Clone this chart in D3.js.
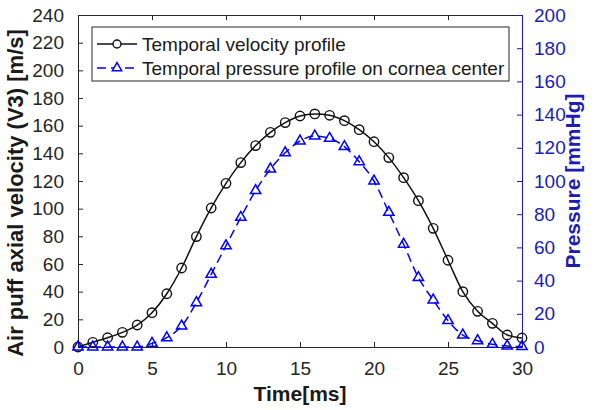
<!DOCTYPE html>
<html>
<head>
<meta charset="utf-8">
<script src="https://cdn.jsdelivr.net/npm/d3@7"></script>
<style>
  body { margin: 0; background: #fff; }
  svg { font-family: "Liberation Sans", Arial, sans-serif; }
</style>
</head>
<body>
<div id="chart"></div>
<script>
// time in ms
var time = [0, 1, 2, 3, 4, 5, 6, 7, 8, 9, 10, 11, 12, 13, 14, 15,
            16, 17, 18, 19, 20, 21, 22, 23, 24, 25, 26, 27, 28, 29, 30];
// air puff axial velocity (V3) [m/s]
var velocity = [0, 3.4, 6.7, 10.6, 15.9, 24.8, 38.5, 57.1, 79.8, 100.5, 118.3,
                133.3, 145.6, 155.2, 162.2, 167, 168.5, 167.5, 163.6, 157.1, 148.4,
                136.9, 122.4, 105.8, 85.8, 62.7, 40, 25.8, 17.1, 8.7, 6.5];
// pressure on cornea center [mmHg]
var pressure = [0, 0, 0, 0, 0, 2.2, 5.6, 12.6, 26.7, 43.8, 61,
                78.1, 94.2, 107.2, 117, 124.1, 127.1, 125.7, 120.7, 111.6, 100,
                81.1, 61.9, 41.8, 28.3, 15.9, 7.2, 3.8, 1.6, 0.6, 0.3];

var xTicks = [0, 5, 10, 15, 20, 25, 30];
var yLeftTicks = [0, 20, 40, 60, 80, 100, 120, 140, 160, 180, 200, 220, 240];
var yRightTicks = [0, 20, 40, 60, 80, 100, 120, 140, 160, 180, 200];
var legendLabels = ["Temporal velocity profile", "Temporal pressure profile on cornea center"];

var W = 599, H = 410;
var margin = {top: 15, right: 77, bottom: 63, left: 78},
    width = W - margin.left - margin.right,
    height = H - margin.top - margin.bottom;

var axisGray = "#262626", blueAxis = "#1c1cb4", blue = "#0000ff";

var svg = d3.select("#chart")
  .append("svg")
    .attr("width", W)
    .attr("height", H)
  .append("g")
    .attr("transform", "translate(" + margin.left + "," + margin.top + ")");

var x = d3.scaleLinear().domain([0, 30]).range([0, width]);
var yL = d3.scaleLinear().domain([0, 240]).range([height, 0]);
var yR = d3.scaleLinear().domain([0, 200]).range([height, 0]);

// box: top border with ticks
svg.append("g")
  .call(d3.axisTop(x).tickValues(xTicks).tickSize(-5).tickFormat(""))
  .call(function(g) {
    g.select(".domain").attr("stroke", axisGray);
    g.selectAll(".tick line").attr("stroke", axisGray);
  });

// bottom axis
svg.append("g")
  .attr("transform", "translate(0," + height + ")")
  .call(d3.axisBottom(x).tickValues(xTicks).tickSize(-5).tickPadding(15))
  .call(function(g) {
    g.select(".domain").attr("stroke", axisGray);
    g.selectAll(".tick line").attr("stroke", axisGray);
    g.selectAll("text").attr("fill", axisGray).style("font-size", "19px");
  });

// left axis
svg.append("g")
  .call(d3.axisLeft(yL).tickValues(yLeftTicks).tickSize(-5).tickPadding(14))
  .call(function(g) {
    g.select(".domain").attr("stroke", axisGray);
    g.selectAll(".tick line").attr("stroke", axisGray);
    g.selectAll("text").attr("fill", axisGray).style("font-size", "19px");
  });

// right axis
svg.append("g")
  .attr("transform", "translate(" + width + ",0)")
  .call(d3.axisRight(yR).tickValues(yRightTicks).tickSize(-5).tickPadding(12))
  .call(function(g) {
    g.select(".domain").attr("stroke", blueAxis);
    g.selectAll(".tick line").attr("stroke", blueAxis);
    g.selectAll("text").attr("fill", blueAxis).style("font-size", "19px");
  });

// axis titles
svg.append("text")
  .attr("x", width / 2)
  .attr("y", height + 54)
  .attr("text-anchor", "middle")
  .style("font-size", "21px")
  .style("font-weight", "bold")
  .attr("fill", "#1a1a1a")
  .text("Time[ms]");

svg.append("text")
  .attr("transform", "translate(" + (-55) + "," + (height / 2 + 12) + ") rotate(-90)")
  .attr("text-anchor", "middle")
  .style("font-size", "22px")
  .style("font-weight", "bold")
  .attr("fill", "#1a1a1a")
  .text("Air puff axial velocity (V3) [m/s]");

svg.append("text")
  .attr("transform", "translate(" + (width + 58) + "," + (height / 2) + ") rotate(-90)")
  .attr("text-anchor", "middle")
  .style("font-size", "21px")
  .style("font-weight", "bold")
  .attr("fill", blueAxis)
  .text("Pressure [mmHg]");

// lines
var lineV = d3.line()
  .x(function(d, i) { return x(time[i]); })
  .y(function(d) { return yL(d); })
  .curve(d3.curveMonotoneX);
var lineP = d3.line()
  .x(function(d, i) { return x(time[i]); })
  .y(function(d) { return yR(d); })
  .curve(d3.curveMonotoneX);

svg.append("path")
  .datum(velocity)
  .attr("d", lineV)
  .attr("fill", "none")
  .attr("stroke", "#111")
  .attr("stroke-width", 1.5);

svg.append("path")
  .datum(pressure)
  .attr("d", lineP)
  .attr("fill", "none")
  .attr("stroke", blue)
  .attr("stroke-width", 1.5)
  .attr("stroke-dasharray", "9,5");

var tri = d3.symbol().type(d3.symbolTriangle).size(46);

svg.selectAll(".vdot")
  .data(velocity)
  .enter()
  .append("circle")
    .attr("cx", function(d, i) { return x(time[i]); })
    .attr("cy", function(d) { return yL(d); })
    .attr("r", 4.7)
    .attr("fill", "none")
    .attr("stroke", "#111")
    .attr("stroke-width", 1.4);

svg.selectAll(".pdot")
  .data(pressure)
  .enter()
  .append("path")
    .attr("d", tri)
    .attr("transform", function(d, i) { return "translate(" + x(time[i]) + "," + yR(d) + ")"; })
    .attr("fill", "none")
    .attr("stroke", blue)
    .attr("stroke-width", 1.5);

// legend
var lg = svg.append("g").attr("transform", "translate(14,12)");
lg.append("rect")
  .attr("width", 417)
  .attr("height", 54)
  .attr("fill", "#fff")
  .attr("stroke", axisGray)
  .attr("stroke-width", 1);

var rows = lg.selectAll(".row")
  .data(legendLabels)
  .enter()
  .append("g")
    .attr("transform", function(d, i) { return "translate(0," + (17 + i * 24) + ")"; });

rows.append("line")
  .attr("x1", 5).attr("x2", 45)
  .attr("stroke", function(d, i) { return i ? blue : "#111"; })
  .attr("stroke-width", 1.5)
  .attr("stroke-dasharray", function(d, i) { return i ? "9,5" : null; });

rows.append("circle")
  .filter(function(d, i) { return i === 0; })
  .attr("cx", 25).attr("r", 4)
  .attr("fill", "#fff").attr("stroke", "#111").attr("stroke-width", 1.4);

rows.filter(function(d, i) { return i === 1; })
  .append("path")
  .attr("d", d3.symbol().type(d3.symbolTriangle).size(38))
  .attr("transform", "translate(25,0)")
  .attr("fill", "#fff").attr("stroke", blue).attr("stroke-width", 1.5);

rows.append("text")
  .attr("x", 50)
  .attr("dy", "0.35em")
  .style("font-size", "19px")
  .attr("fill", "#1a1a1a")
  .text(function(d) { return d; });
</script>
</body>
</html>
